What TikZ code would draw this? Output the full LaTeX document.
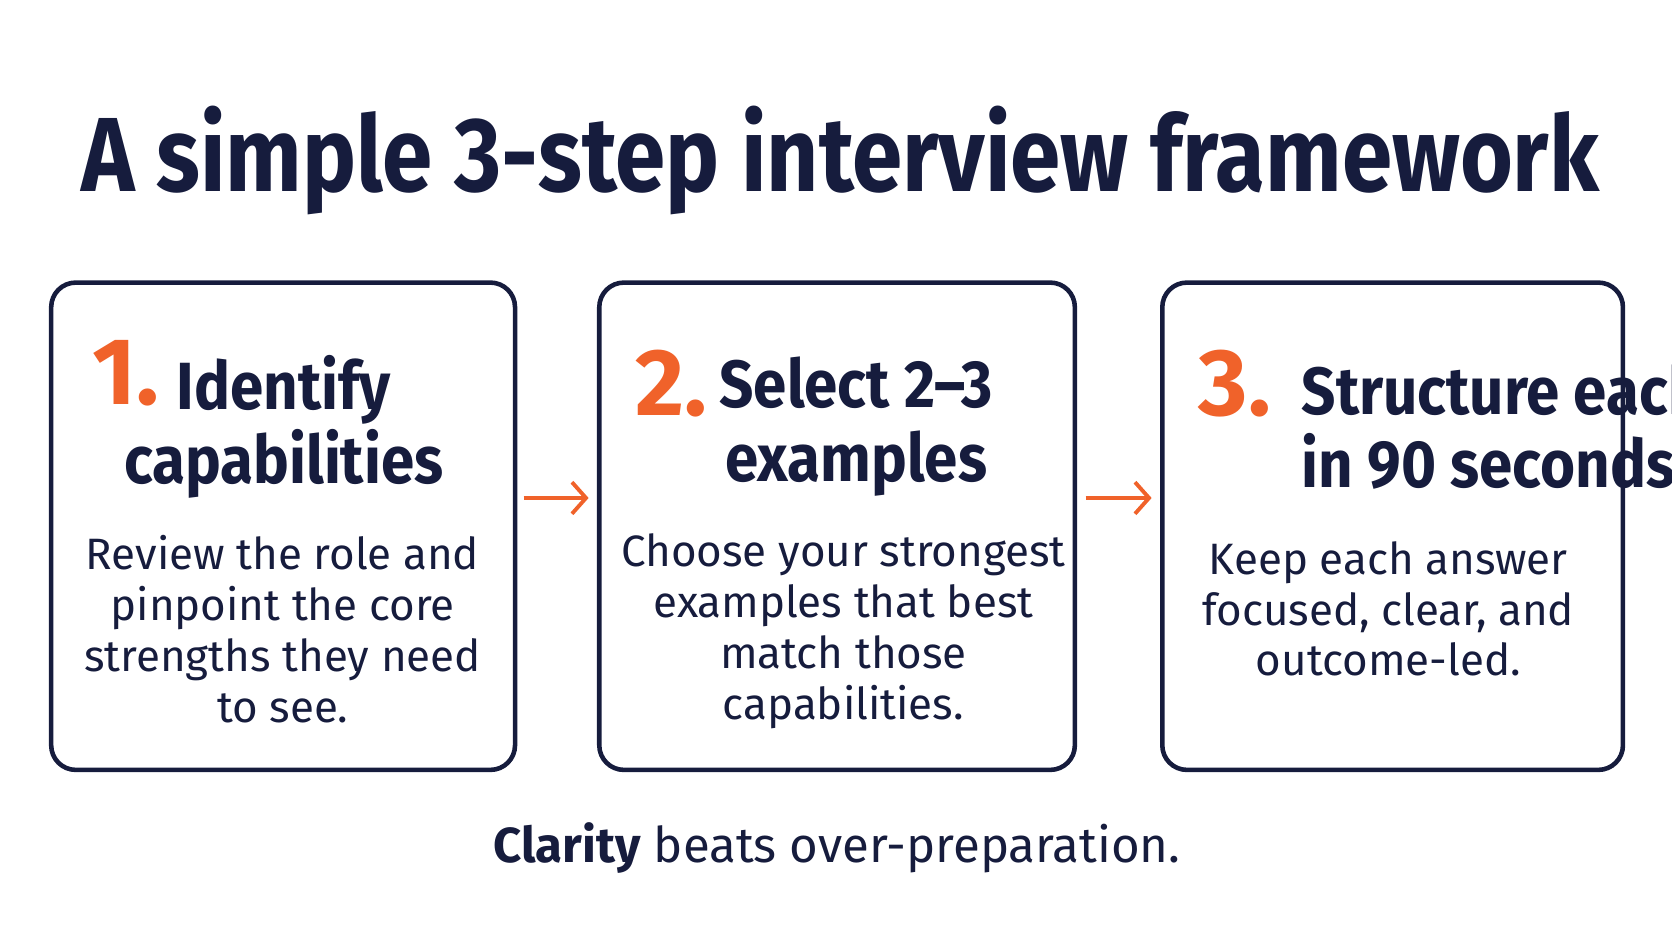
\documentclass[tikz,border=0pt]{standalone}
\usepackage{fontspec}
\setmainfont{Fira Sans}
\usetikzlibrary{positioning, arrows.meta}
\definecolor{navy}{HTML}{161C3D}
\definecolor{accent}{HTML}{F0622A}
\tikzstyle{every node} = [text=navy, inner sep=0pt]
\tikzstyle{card}    = [draw=navy, line width=1.3pt, rounded corners=7pt]
\tikzstyle{num}     = [text=accent, font=\fontsize{27}{27}\selectfont\bfseries]
\tikzstyle{heading} = [font=\fontsize{19}{21}\selectfont\bfseries, align=center]
\tikzstyle{body}    = [font=\fontsize{12.5}{14.5}\selectfont, align=center]
\tikzstyle{arrow}   = [draw=accent, line width=1.1pt, ->, >={Straight Barb[length=4pt,width=9pt]}]
\begin{document}
\begin{tikzpicture}[x=0.01066cm, y=-0.01066cm]
\useasboundingbox (0,0) rectangle (1568,882);
% Title
    \node (title) at (788,150) {\scalebox{0.86}[1]{\fontsize{30}{30}\selectfont\bfseries A simple 3-step interview framework}};
% Cards
    \draw[card] (48,265) rectangle (483,722);
    \draw[card] (562,265) rectangle (1008,722);
    \draw[card] (1090,265) rectangle (1522,722);
    \coordinate (c1r) at (491,467);
    \coordinate (c2l) at (552,467);
    \coordinate (c2r) at (1018,467);
    \coordinate (c3l) at (1080,467);
% Step 1
    \node (n1) [num] at (118,350) {1.};
    \node (h1) [heading] at (266,400) {\scalebox{0.9}[1]{Identify}\\\scalebox{0.9}[1]{capabilities}};
    \node (b1) [body] at (265,590) {Review the role and\\pinpoint the core\\strengths they need\\to see.};
% Step 2
    \node (n2) [num] at (630,360) {2.};
    \node (h2) [heading] at (803,400) {\scalebox{0.9}[1]{Select 2–3}\\\scalebox{0.9}[1]{examples}};
    \node (b2) [body] at (791,592) {Choose your strongest\\examples that best\\match those\\capabilities.};
% Step 3
    \node (n3) [num] at (1158,360) {3.};
    \node (h3) [heading, align=left, anchor=west] at (1220,400) {\scalebox{0.9}[1]{Structure each}\\\scalebox{0.9}[1]{in 90 seconds}};
    \node (b3) [body] at (1302,571) {Keep each answer\\focused, clear, and\\outcome-led.};
% Arrows
    \draw[arrow] (c1r) -- (c2l);
    \draw[arrow] (c2r) -- (c3l);
% Footer
    \node (foot) at (785,795) {\fontsize{14}{14}\selectfont\textbf{Clarity} beats over-preparation.};
\end{tikzpicture}
\end{document}
